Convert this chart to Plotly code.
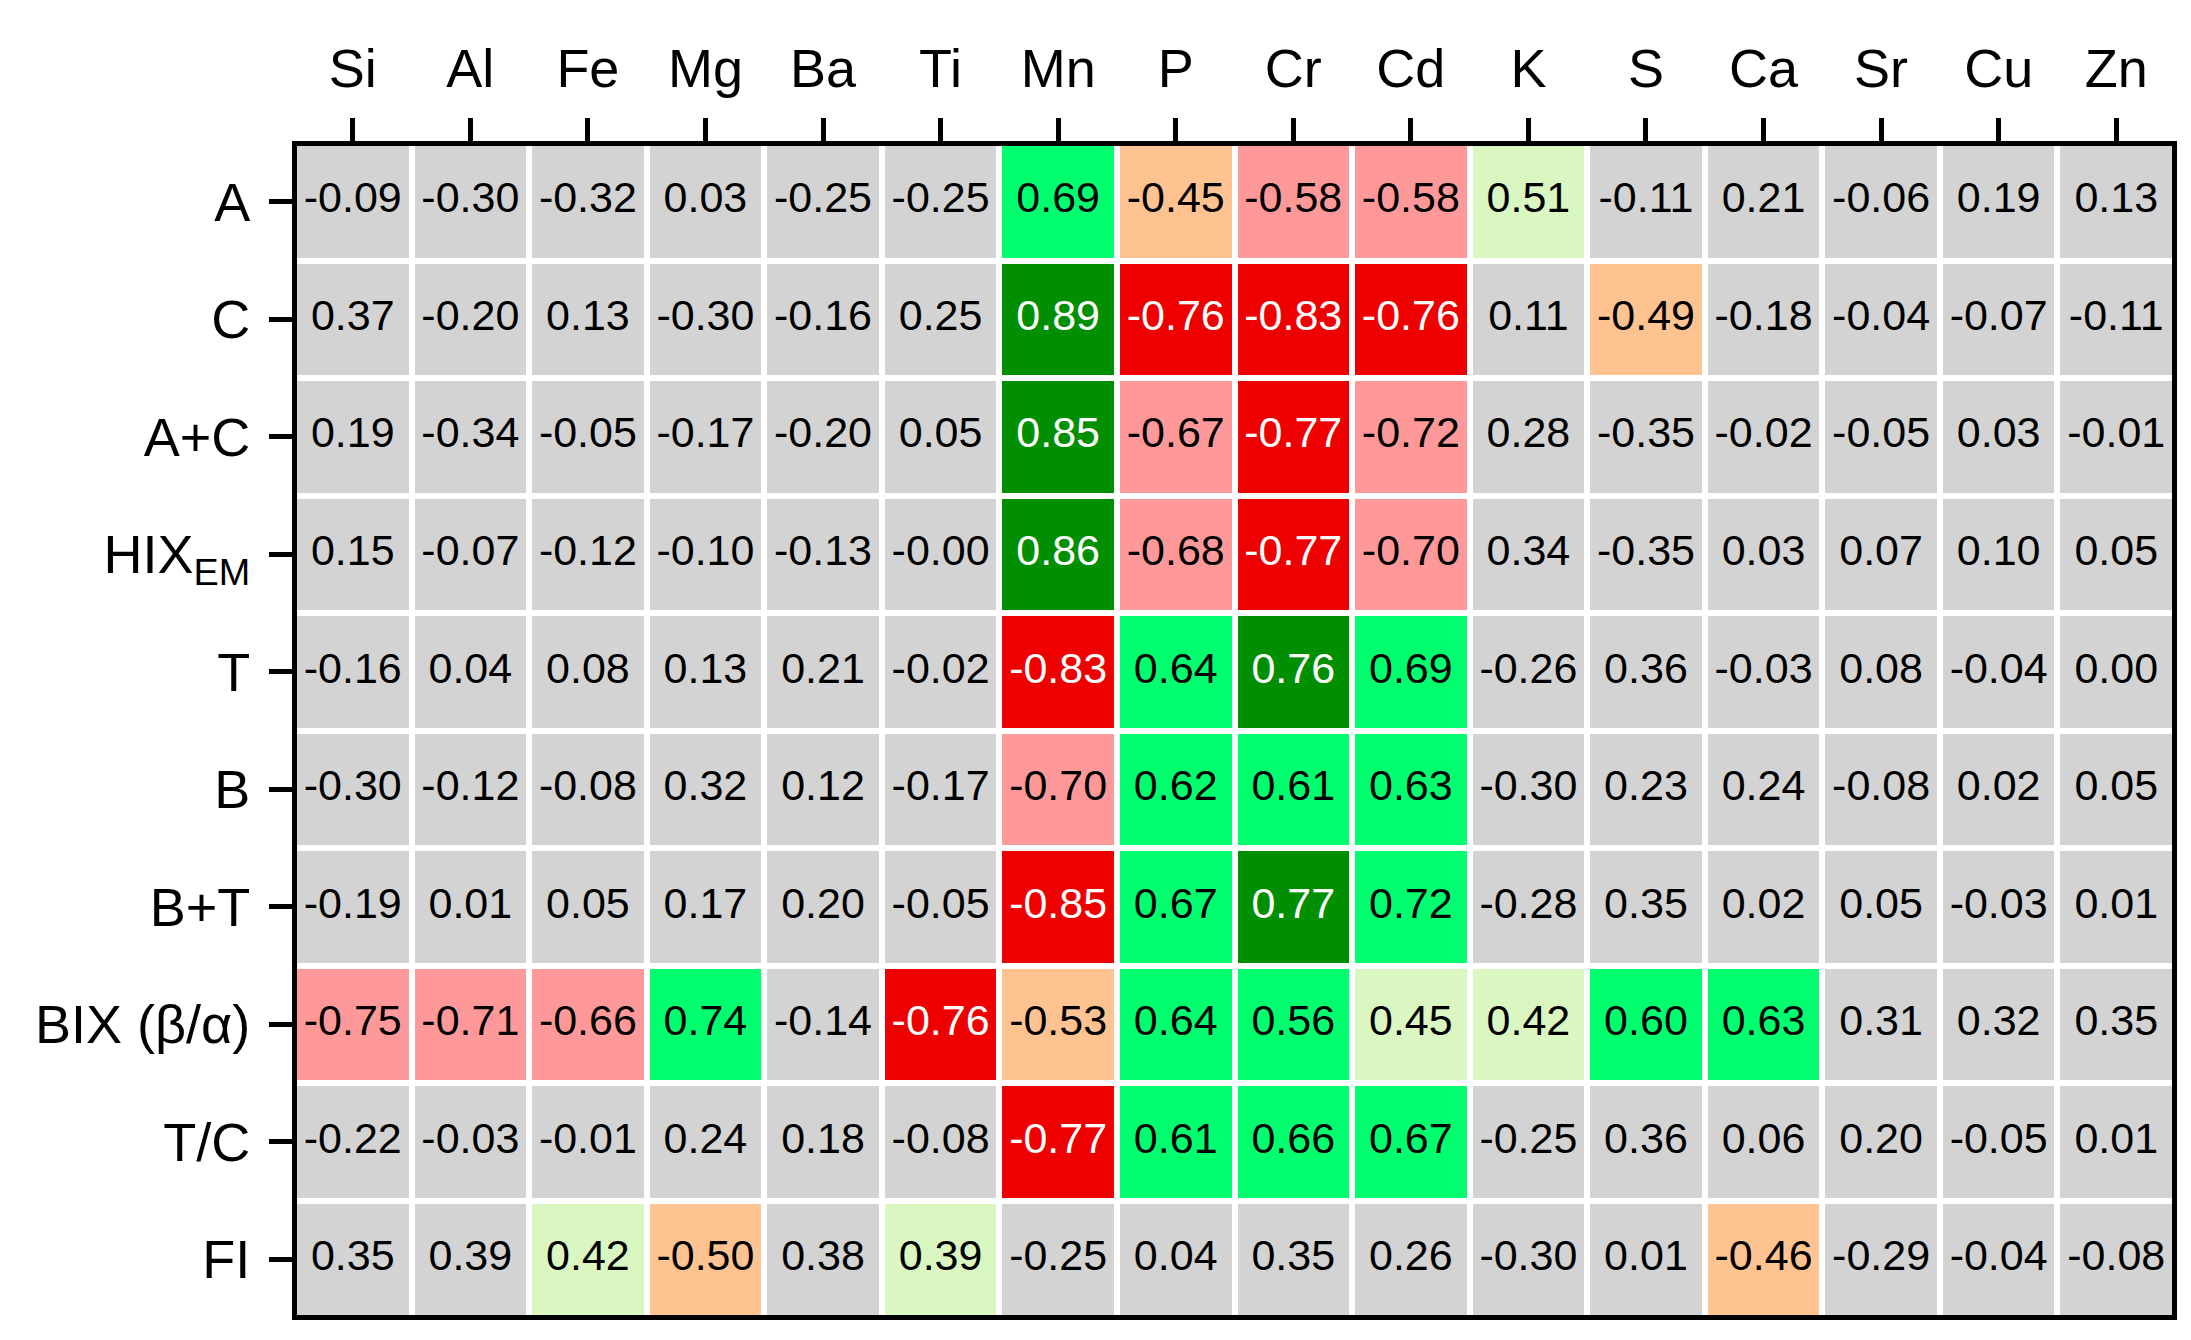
import plotly.graph_objects as go

columns = ["Si", "Al", "Fe", "Mg", "Ba", "Ti", "Mn", "P", "Cr", "Cd", "K", "S", "Ca", "Sr", "Cu", "Zn"]
rows = ["A", "C", "A+C", "HIX<sub>EM</sub>", "T", "B", "B+T", "BIX (β/α)", "T/C", "FI"]

# correlation coefficients (rows x columns)
r_A    = [-0.09, -0.30, -0.32, 0.03, -0.25, -0.25, 0.69, -0.45, -0.58, -0.58, 0.51, -0.11, 0.21, -0.06, 0.19, 0.13]
r_C    = [0.37, -0.20, 0.13, -0.30, -0.16, 0.25, 0.89, -0.76, -0.83, -0.76, 0.11, -0.49, -0.18, -0.04, -0.07, -0.11]
r_AC   = [0.19, -0.34, -0.05, -0.17, -0.20, 0.05, 0.85, -0.67, -0.77, -0.72, 0.28, -0.35, -0.02, -0.05, 0.03, -0.01]
r_HIX  = [0.15, -0.07, -0.12, -0.10, -0.13, -0.0, 0.86, -0.68, -0.77, -0.70, 0.34, -0.35, 0.03, 0.07, 0.10, 0.05]
r_T    = [-0.16, 0.04, 0.08, 0.13, 0.21, -0.02, -0.83, 0.64, 0.76, 0.69, -0.26, 0.36, -0.03, 0.08, -0.04, 0.00]
r_B    = [-0.30, -0.12, -0.08, 0.32, 0.12, -0.17, -0.70, 0.62, 0.61, 0.63, -0.30, 0.23, 0.24, -0.08, 0.02, 0.05]
r_BT   = [-0.19, 0.01, 0.05, 0.17, 0.20, -0.05, -0.85, 0.67, 0.77, 0.72, -0.28, 0.35, 0.02, 0.05, -0.03, 0.01]
r_BIX  = [-0.75, -0.71, -0.66, 0.74, -0.14, -0.76, -0.53, 0.64, 0.56, 0.45, 0.42, 0.60, 0.63, 0.31, 0.32, 0.35]
r_TC   = [-0.22, -0.03, -0.01, 0.24, 0.18, -0.08, -0.77, 0.61, 0.66, 0.67, -0.25, 0.36, 0.06, 0.20, -0.05, 0.01]
r_FI   = [0.35, 0.39, 0.42, -0.50, 0.38, 0.39, -0.25, 0.04, 0.35, 0.26, -0.30, 0.01, -0.46, -0.29, -0.04, -0.08]

# significance class (sign x level, 0 = not significant)
s_A    = [0, 0, 0, 0, 0, 0, 2, -1, -2, -2, 1, 0, 0, 0, 0, 0]
s_C    = [0, 0, 0, 0, 0, 0, 3, -3, -3, -3, 0, -1, 0, 0, 0, 0]
s_AC   = [0, 0, 0, 0, 0, 0, 3, -2, -3, -2, 0, 0, 0, 0, 0, 0]
s_HIX  = [0, 0, 0, 0, 0, 0, 3, -2, -3, -2, 0, 0, 0, 0, 0, 0]
s_T    = [0, 0, 0, 0, 0, 0, -3, 2, 3, 2, 0, 0, 0, 0, 0, 0]
s_B    = [0, 0, 0, 0, 0, 0, -2, 2, 2, 2, 0, 0, 0, 0, 0, 0]
s_BT   = [0, 0, 0, 0, 0, 0, -3, 2, 3, 2, 0, 0, 0, 0, 0, 0]
s_BIX  = [-2, -2, -2, 2, 0, -3, -1, 2, 2, 1, 1, 2, 2, 0, 0, 0]
s_TC   = [0, 0, 0, 0, 0, 0, -3, 2, 2, 2, 0, 0, 0, 0, 0, 0]
s_FI   = [0, 0, 1, -1, 0, 1, 0, 0, 0, 0, 0, 0, -1, 0, 0, 0]

values = [r_A, r_C, r_AC, r_HIX, r_T, r_B, r_BT, r_BIX, r_TC, r_FI]
levels = [s_A, s_C, s_AC, s_HIX, s_T, s_B, s_BT, s_BIX, s_TC, s_FI]

level_colors = ["#EE0000", "#FF9999", "#FFC392", "#D3D3D3", "#DAF7C2", "#00FF6E", "#008F00"]
cs = []
n = len(level_colors)
for i, c in enumerate(level_colors):
    cs.append([i / n, c])
    cs.append([(i + 1) / n, c])

FONT = "Liberation Sans, Arial, sans-serif"

fig = go.Figure()
fig.add_trace(go.Heatmap(
    z=levels, x=columns, y=rows,
    colorscale=cs, zmin=-3.5, zmax=3.5, showscale=False,
    xgap=6, ygap=6, hoverinfo="skip",
))

tx, ty, tt, tc = [], [], [], []
for i, rname in enumerate(rows):
    for j, cname in enumerate(columns):
        tx.append(cname)
        ty.append(rname)
        tt.append("{:.2f}".format(values[i][j]))
        tc.append("white" if abs(levels[i][j]) == 3 else "black")

fig.add_trace(go.Scatter(
    x=tx, y=ty, text=tt, mode="text",
    textposition="middle center",
    textfont=dict(family=FONT, size=43, color=tc),
    hoverinfo="skip", showlegend=False,
))

axis_common = dict(
    showline=True, linecolor="black", linewidth=5, mirror=True,
    ticks="outside", ticklen=23, tickwidth=5, tickcolor="black",
    showgrid=False, zeroline=False,
    tickfont=dict(family=FONT, size=54, color="black"),
)

# trim half a cell gap at the outer edges so the cells meet the frame
ex = 3 / 117.2
ey = 3 / 116.9

fig.update_layout(
    width=2191, height=1340,
    margin=dict(l=289, r=27, t=138, b=33),
    paper_bgcolor="white", plot_bgcolor="white",
    xaxis=dict(side="top", range=[-0.5 + ex, len(columns) - 0.5 - ex], ticklabelstandoff=9, **axis_common),
    yaxis=dict(range=[len(rows) - 0.5 - ey, -0.5 + ey], ticklabelstandoff=8, **axis_common),
    showlegend=False,
)

fig.write_html("out.html")
